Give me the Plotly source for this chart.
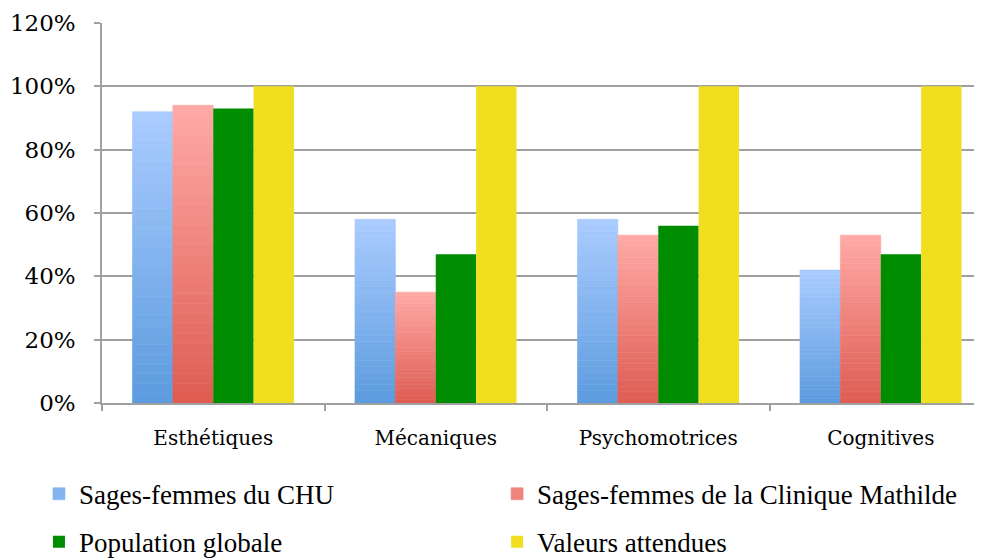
import plotly.graph_objects as go

categories = ["Esthétiques", "Mécaniques", "Psychomotrices", "Cognitives"]
chu = [0.92, 0.58, 0.58, 0.42]
mathilde = [0.94, 0.35, 0.53, 0.53]
globale = [0.93, 0.47, 0.56, 0.47]
attendues = [1.00, 1.00, 1.00, 1.00]

FONT = "DejaVu Serif"
LEGEND_FONT = "Liberation Serif"
N = 30  # number of slices used to fake the vertical gradient


def mix(c1, c2, t):
    return "rgb({},{},{})".format(*[round(a + (b - a) * t) for a, b in zip(c1, c2)])


def gradient_bars(fig, values, name, bottom, top, group, legend):
    for i in range(N):
        col = mix(bottom, top, (i + 0.5) / N)
        fig.add_trace(go.Bar(
            x=categories,
            y=[v / N for v in values],
            base=[v * i / N for v in values],
            offsetgroup=group,
            marker=dict(color=col, line=dict(color=col, width=0.6)),
            name=name,
            legendgroup=group,
            legend=legend,
            showlegend=(i == N // 2),
            hoverinfo="skip" if i else "all",
        ))


fig = go.Figure()
gradient_bars(fig, chu, "Sages-femmes du CHU", (92, 155, 222), (170, 204, 255), "chu", "legend")
gradient_bars(fig, mathilde, "Sages-femmes de la Clinique Mathilde", (222, 92, 82), (255, 170, 166), "mat", "legend2")
fig.add_trace(go.Bar(x=categories, y=globale, offsetgroup="glob", name="Population globale",
                     marker=dict(color="#008c00", line_width=0), legend="legend3"))
fig.add_trace(go.Bar(x=categories, y=attendues, offsetgroup="att", name="Valeurs attendues",
                     marker=dict(color="#efdf1f", line_width=0), legend="legend4"))


def leg(x, y):
    return dict(orientation="h", x=x, y=y, xanchor="left", yanchor="middle",
                font=dict(family=LEGEND_FONT, size=27, color="black"), bgcolor="rgba(0,0,0,0)")


# the page puts the figure 8 px from the top-left corner, so the figure is 8 px smaller
fig.update_layout(
    width=974, height=551,
    margin=dict(l=94, r=2, t=15, b=156, autoexpand=False),
    plot_bgcolor="white", paper_bgcolor="white",
    barmode="group", bargap=0.274, bargroupgap=0,
    font=dict(family=FONT, color="black"),
    legend=leg(-0.0718, -0.240),
    legend2=leg(0.450, -0.240),
    legend3=leg(-0.0718, -0.366),
    legend4=leg(0.450, -0.366),
)
fig.update_yaxes(
    range=[0, 1.2], dtick=0.2, tickformat=".0%", automargin=False,
    showgrid=True, gridcolor="#a0a0a0", gridwidth=1.5,
    showline=True, linecolor="#a0a0a0", linewidth=1.5,
    ticks="outside", ticklen=6, tickcolor="#a0a0a0", tickwidth=1.5,
    ticklabelstandoff=14, tickfont=dict(family=FONT, size=23), zeroline=False,
)
fig.update_xaxes(
    range=[-0.5, 3.446], automargin=False,
    showline=True, linecolor="#a0a0a0", linewidth=1.5,
    ticks="outside", tickson="boundaries", ticklen=6, tickcolor="#a0a0a0", tickwidth=1.5,
    ticklabelstandoff=16, tickfont=dict(family=FONT, size=20),
)

fig.write_html("out.html")
